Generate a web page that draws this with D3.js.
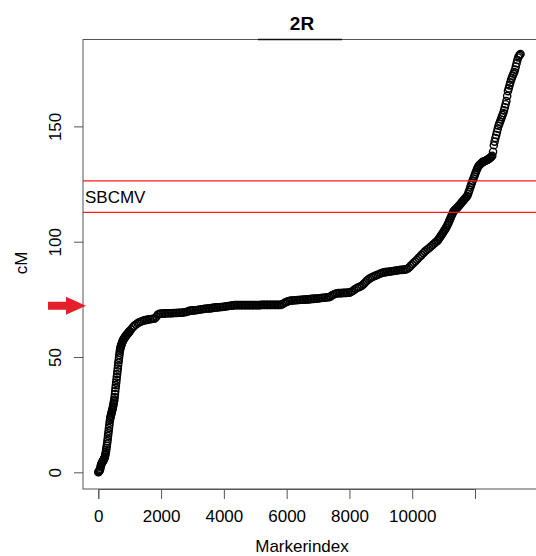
<!DOCTYPE html>
<html><head><meta charset="utf-8">
<script src="https://cdn.jsdelivr.net/npm/d3@7"></script>
<style>body{margin:0;background:#fff}svg{display:block}text{font-family:"Liberation Sans",Arial,Helvetica,sans-serif}</style>
</head><body>
<script>
// Each segment: first marker index, marker step, cM values.
const segStartIdx = [0, 1000, 10800];
const segStep = [10, 50, 25];
const cMSeg1 = [
0.0,0.2,0.4,0.6,0.8,1.0,1.5,2.2,2.8,3.3,
3.7,4.0,4.3,4.5,4.7,4.9,5.1,5.4,5.7,6.0,
6.3,6.7,7.3,8.0,8.8,9.6,10.5,11.4,12.4,13.5,
14.6,15.8,16.9,18.0,19.2,20.3,21.5,22.6,23.4,24.0,
24.6,25.1,25.7,26.2,26.8,27.3,27.9,28.6,29.3,30.0,
30.8,31.5,32.6,33.9,35.2,36.6,37.8,38.9,40.1,41.4,
42.6,43.8,45.0,46.3,47.5,48.6,49.7,50.8,51.9,52.9,
53.6,54.2,54.7,55.1,55.5,55.9,56.3,56.7,57.0,57.3,
57.6,57.8,58.0,58.2,58.4,58.6,58.8,59.0,59.2,59.4,
59.6,59.7,59.9,60.0,60.2,60.3,60.5,60.7,60.9,61.1
];
const cMSeg2 = [
61.2,62.0,62.9,63.6,64.1,64.6,65.0,65.3,65.6,65.8,
66.0,66.1,66.3,66.4,66.5,66.6,66.7,67.5,68.4,68.7,
68.8,68.8,68.9,68.9,69.0,69.0,69.0,69.0,69.1,69.1,
69.1,69.2,69.2,69.2,69.3,69.4,69.5,69.7,70.0,70.1,
70.2,70.2,70.3,70.4,70.5,70.6,70.7,70.8,70.9,71.0,
71.0,71.1,71.2,71.3,71.4,71.5,71.5,71.6,71.7,71.7,
71.8,71.9,72.0,72.1,72.2,72.3,72.4,72.5,72.5,72.5,
72.5,72.5,72.5,72.5,72.5,72.5,72.5,72.5,72.5,72.5,
72.5,72.5,72.5,72.5,72.6,72.6,72.6,72.6,72.6,72.6,
72.6,72.6,72.6,72.6,72.6,72.6,72.6,72.8,73.2,73.6,
73.9,74.2,74.4,74.5,74.5,74.6,74.6,74.7,74.7,74.8,
74.8,74.9,74.9,75.0,75.0,75.1,75.2,75.2,75.3,75.4,
75.4,75.5,75.6,75.7,75.7,75.8,75.9,75.9,76.3,76.8,
77.1,77.4,77.6,77.7,77.7,77.7,77.8,77.8,77.8,77.9,
77.9,78.2,78.6,79.1,79.6,80.0,80.3,80.6,81.0,81.6,
82.3,83.0,83.6,84.1,84.5,84.8,85.1,85.4,85.7,86.0,
86.3,86.5,86.7,86.8,86.9,87.0,87.1,87.2,87.3,87.4,
87.5,87.6,87.7,87.8,87.8,87.9,88.0,88.3,88.8,89.5,
90.2,90.9,91.5,92.2,92.9,93.6,94.3,95.0,95.7,96.3,
96.8,97.4,98.0,98.6,99.2,99.8
];
const cMSeg3 = [
100.3,100.8,101.3,101.8,102.3,102.8,103.3,103.8,
104.4,104.9,105.4,106.0,106.6,107.3,108.0,108.8,
109.6,110.4,111.2,112.0,112.7,113.3,113.7,114.0,
114.3,114.6,115.0,115.4,115.8,116.2,116.6,117.0,
117.4,117.8,118.2,118.6,119.0,119.4,119.8,120.6,
121.5,122.5,123.6,124.6,125.6,126.5,127.4,128.3,
129.2,130.1,131.0,131.8,132.5,133.0,133.4,133.7,
134.0,134.3,134.6,134.8,134.9,135.0,135.2,135.4,
135.6,135.8,136.0,136.3,136.6,136.9,137.3,139.0,
141.8,143.4,145.0,146.3,147.6,149.0,150.3,151.2,
152.1,153.0,154.0,154.9,155.8,157.0,158.3,159.6,
161.0,163.2,165.3,166.5,167.8,169.0,170.2,171.1,
172.0,172.8,173.6,174.6,176.0,177.4,178.8,179.9,
180.5,181.0,181.4
];
const xTicks = [0, 2000, 4000, 6000, 8000, 10000, 12000];
const xTickLabels = ["0", "2000", "4000", "6000", "8000", "10000", ""];
const yTicks = [0, 50, 100, 150];
const yTickLabels = ["0", "50", "100", "150"];
const regionLines = [126.4, 112.7];
const regionLabel = "SBCMV";
const arrowCM = 72.2;
const title = "2R", xLabel = "Markerindex", yLabel = "cM";

const segs = [cMSeg1, cMSeg2, cMSeg3];
const points = [];
segs.forEach((arr, s) => arr.forEach((v, i) => points.push({idx: segStartIdx[s] + i * segStep[s], cM: v})));

const W = 536, H = 556;
const box = {left: 83, top: 39.5, right: 540, bottom: 489};
const svg = d3.select("body").append("svg").attr("width", W).attr("height", H);

const x = d3.scaleLinear().domain([0, 12000]).range([98.3, 475]);
const y = d3.scaleLinear().domain([0, 150]).range([472.3, 126.4]);

const fs = 17;
svg.append("text").attr("x", 302).attr("y", 30).attr("text-anchor", "middle")
  .attr("font-size", 19).attr("font-weight", "bold").text(title);

// points
svg.append("g").selectAll("circle").data(points).join("circle")
  .attr("cx", d => x(d.idx)).attr("cy", d => y(d.cM)).attr("r", 3.6)
  .attr("fill", "none").attr("stroke", "#000").attr("stroke-width", 1.4);

// region lines
svg.append("g").selectAll("line").data(regionLines).join("line")
  .attr("x1", box.left).attr("x2", W).attr("y1", d => y(d)).attr("y2", d => y(d))
  .attr("stroke", "#ff1a1a").attr("stroke-width", 1.3);
svg.append("text").attr("x", 85).attr("y", (y(regionLines[0]) + y(regionLines[1])) / 2 + 6)
  .attr("font-size", fs).text(regionLabel);

// box
svg.append("rect").attr("x", box.left).attr("y", box.top)
  .attr("width", box.right - box.left).attr("height", box.bottom - box.top)
  .attr("fill", "none").attr("stroke", "#555").attr("stroke-width", 1);
svg.append("line").attr("x1", 258).attr("x2", 342).attr("y1", box.top).attr("y2", box.top)
  .attr("stroke", "#111").attr("stroke-width", 1.6);

// x axis
const xAxis = d3.axisBottom(x).tickValues(xTicks).tickSize(10)
  .tickFormat((d, i) => xTickLabels[i]);
const gx = svg.append("g").attr("transform", `translate(0,${box.bottom})`).call(xAxis);
gx.select(".domain").attr("stroke", "#555");
gx.selectAll(".tick line").attr("stroke", "#555");
gx.selectAll(".tick text").attr("font-size", fs).attr("fill", "#000")
  .attr("font-family", '"Liberation Sans",Arial,sans-serif').attr("dy", null).attr("y", 33);
svg.append("text").attr("x", 302).attr("y", 552).attr("text-anchor", "middle")
  .attr("font-size", fs).text(xLabel);

// y axis
const yAxis = d3.axisLeft(y).tickValues(yTicks).tickSize(9)
  .tickFormat((d, i) => yTickLabels[i]);
const gy = svg.append("g").attr("transform", `translate(${box.left},0)`).call(yAxis);
gy.select(".domain").remove();
gy.selectAll(".tick line").attr("stroke", "#555");
gy.selectAll(".tick text").attr("font-size", fs).attr("fill", "#000")
  .attr("font-family", '"Liberation Sans",Arial,sans-serif')
  .attr("x", null).attr("dy", null).attr("text-anchor", "middle")
  .attr("transform", "translate(-22,0) rotate(-90)");
svg.append("text").attr("transform", "translate(27,263) rotate(-90)")
  .attr("text-anchor", "middle").attr("font-size", fs).text(yLabel);

// red arrow
const ay = y(arrowCM);
svg.append("path")
  .attr("d", `M48,${ay-4}L66,${ay-4}L66,${ay-9}L86,${ay}L66,${ay+9}L66,${ay+4}L48,${ay+4}Z`)
  .attr("fill", "#e3202b");
</script>
</body></html>
